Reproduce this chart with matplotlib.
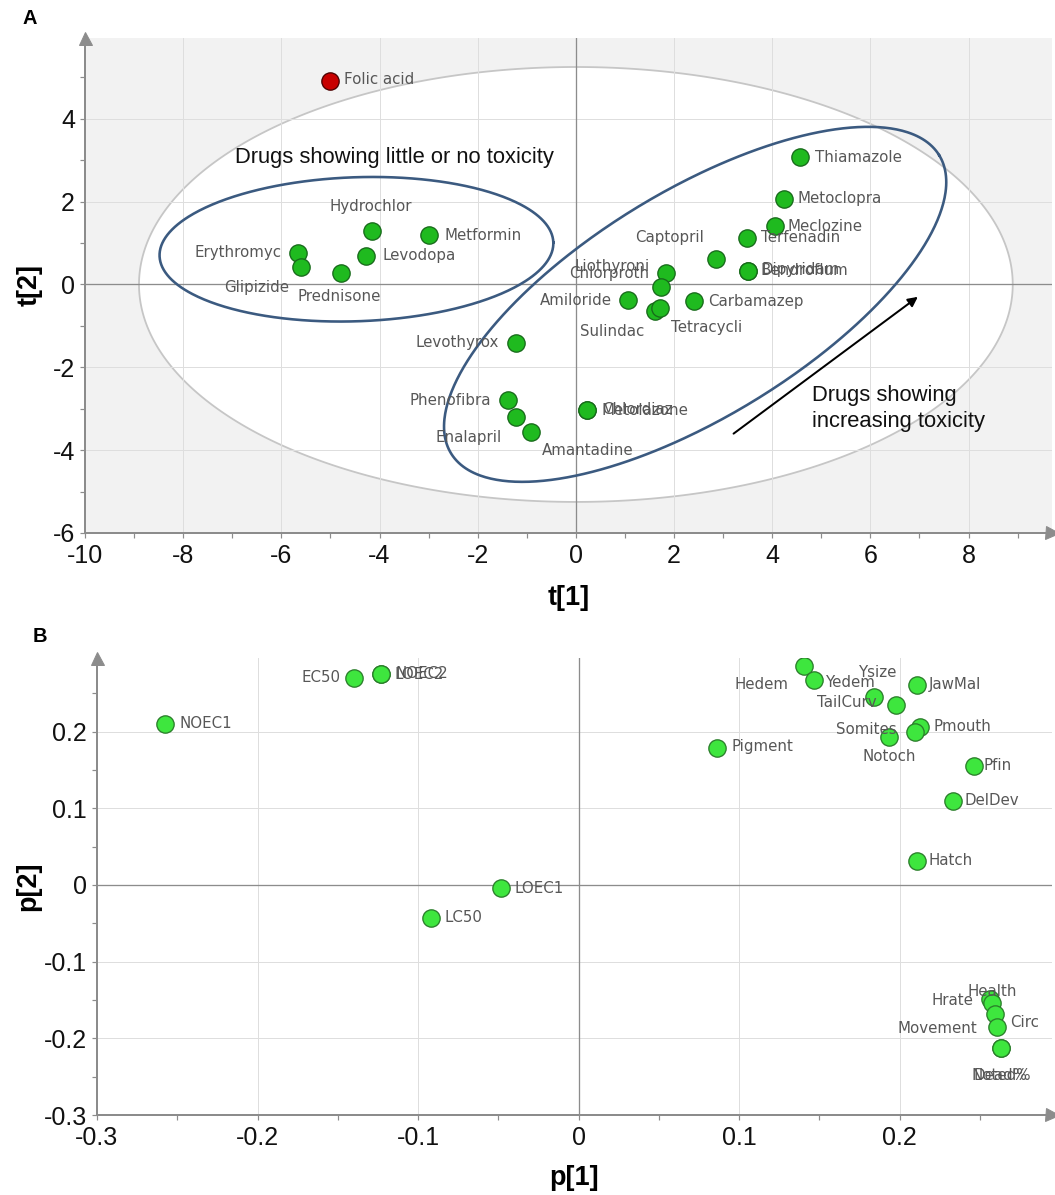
import numpy as np
import matplotlib
matplotlib.use("Agg")
import matplotlib.pyplot as plt
from matplotlib import font_manager
from matplotlib.ticker import MultipleLocator, FuncFormatter

plt.rcParams["axes.unicode_minus"] = False

# ---------------- Panel A: PCA scores t[1] / t[2] ----------------
drugs = ["Folic acid", "Thiamazole", "Metoclopra", "Meclozine", "Terfenadin",
         "Captopril", "Bendroflum", "Dipyridam", "Chlorproth", "Liothyroni",
         "Amiloride", "Carbamazep", "Sulindac", "Tetracycli", "Levothyrox",
         "Phenofibra", "Enalapril", "Amantadine", "Metolazone", "Chlordiaz",
         "Erythromyc", "Glipizide", "Prednisone", "Levodopa", "Hydrochlor",
         "Metformin"]
t1 = [-5.00, 4.56, 4.24, 4.05, 3.48, 2.86, 3.50, 3.51, 1.84, 1.74,
      1.07, 2.40, 1.61, 1.72, -1.22, -1.39, -1.22, -0.92, 0.22, 0.23,
      -5.67, -5.59, -4.78, -4.27, -4.16, -3.00]
t2 = [4.92, 3.07, 2.07, 1.40, 1.13, 0.61, 0.32, 0.33, 0.27, -0.06,
      -0.38, -0.40, -0.65, -0.58, -1.41, -2.80, -3.21, -3.55, -3.04, -3.03,
      0.77, 0.41, 0.27, 0.68, 1.28, 1.19]
outlier = ["Folic acid"]

# ---------------- Panel B: PCA loadings p[1] / p[2] ----------------
endpoints = ["NOEC1", "EC50", "LOEC2", "NOEC2", "LOEC1", "LC50", "Pigment",
             "Hedem", "Yedem", "Ysize", "TailCurv", "JawMal", "Pmouth",
             "Somites", "Notoch", "Pfin", "DelDev", "Hatch", "Hrate",
             "Health", "Circ", "Movement", "Dead%", "Noted%"]
p1 = [-0.2575, -0.1396, -0.1233, -0.1230, -0.0485, -0.0921, 0.0863,
      0.1406, 0.1469, 0.1838, 0.1981, 0.2111, 0.2127,
      0.2096, 0.1933, 0.2464, 0.2336, 0.2111, 0.2563,
      0.2575, 0.2594, 0.2606, 0.2631, 0.2632]
p2 = [0.210, 0.2702, 0.2750, 0.2752, -0.0043, -0.0427, 0.179,
      0.2859, 0.2676, 0.2454, 0.2350, 0.2611, 0.2063,
      0.1997, 0.1932, 0.1553, 0.1097, 0.0313, -0.1488,
      -0.1540, -0.1684, -0.1854, -0.2128, -0.2129]

# label placement: (dx px, dy px, horizontal alignment)
R, L, C = "left", "right", "center"
label_pos_a = {
    "Folic acid": (14, 1, R), "Thiamazole": (15, 0, R), "Metoclopra": (14, 0, R),
    "Meclozine": (13, 0, R), "Terfenadin": (14, 0, R), "Captopril": (-12, 22, L),
    "Bendroflum": (13, 1, R), "Dipyridam": (13, 1, R), "Chlorproth": (-17, 0, L),
    "Liothyroni": (-12, 20, L), "Amiloride": (-17, 0, L), "Carbamazep": (14, 0, R),
    "Sulindac": (-11, -20, L), "Tetracycli": (11, -19, R), "Levothyrox": (-17, 0, L),
    "Phenofibra": (-17, 0, L), "Enalapril": (-14, -20, L), "Amantadine": (11, -19, R),
    "Metolazone": (15, 0, R), "Chlordiaz": (15, 0, R), "Erythromyc": (-16, 0, L),
    "Glipizide": (-12, -20, L), "Prednisone": (-44, -23, R), "Levodopa": (16, 1, R),
    "Hydrochlor": (-1, 25, C), "Metformin": (16, 0, R),
}
label_pos_b = {
    "NOEC1": (14, 0, R), "EC50": (-14, 0, L), "LOEC2": (14, 0, R), "NOEC2": (14, 0, R),
    "LOEC1": (14, 0, R), "LC50": (14, 0, R), "Pigment": (14, 1, R),
    "Hedem": (-16, -19, L), "Yedem": (12, -3, R), "Ysize": (5, 24, C),
    "TailCurv": (-20, 2, L), "JawMal": (11, 0, R), "Pmouth": (14, 0, R),
    "Somites": (-18, 2, L), "Notoch": (0, -20, C), "Pfin": (10, 0, R),
    "DelDev": (11, 0, R), "Hatch": (11, 0, R), "Hrate": (-17, -1, L),
    "Health": (0, 12, C), "Circ": (15, -8, R), "Movement": (-20, -1, L),
    "Dead%": (0, -27, C), "Noted%": (0, -27, C),
}

# group outlines: centre (data), semi-axes in screen px, angle in degrees
HOTELLING = dict(a=8.9, b=5.25)
GROUP_LOW = dict(center=(-4.47, 0.85), a=197, b=72, angle=2)
GROUP_HIGH = dict(center=(2.43, -0.48), a=286, b=113, angle=31.4)

# ---------------- styling ----------------
names = {f.name for f in font_manager.fontManager.ttflist}
NARROW = "Liberation Sans Narrow" if "Liberation Sans Narrow" in names else "Liberation Sans"
AXIS_GREY = "#8c8c8c"
GRID_GREY = "#dedede"
LABEL_GREY = "#575757"
BLUE = "#3b5a80"

W, H = 1055, 1195
fig = plt.figure(figsize=(W / 72, H / 72), dpi=72)

def px_box(left, top, right, bottom):
    return [left / W, 1 - bottom / H, (right - left) / W, (bottom - top) / H]

axA = fig.add_axes(px_box(85, 38, 1052, 533))
axB = fig.add_axes(px_box(97, 658, 1052, 1115))


def style_axes(ax, xlim, ylim, xmaj, xmin, ymaj, ymin, fmt=None):
    ax.set_xlim(*xlim)
    ax.set_ylim(*ylim)
    for s in ("top", "right"):
        ax.spines[s].set_visible(False)
    for s in ("left", "bottom"):
        ax.spines[s].set_color(AXIS_GREY)
        ax.spines[s].set_linewidth(2)
    ax.xaxis.set_major_locator(MultipleLocator(xmaj))
    ax.xaxis.set_minor_locator(MultipleLocator(xmin))
    ax.yaxis.set_major_locator(MultipleLocator(ymaj))
    ax.yaxis.set_minor_locator(MultipleLocator(ymin))
    if fmt is not None:
        ax.xaxis.set_major_formatter(fmt)
        ax.yaxis.set_major_formatter(fmt)
    ax.tick_params(which="both", direction="out", length=5, width=1.2,
                   color=AXIS_GREY, labelsize=25, labelcolor="#111111")
    ax.tick_params(axis="x", pad=6)
    ax.tick_params(axis="y", pad=5)
    for lab in ax.get_xticklabels() + ax.get_yticklabels():
        lab.set_family(NARROW)
    ax.grid(True, which="major", color=GRID_GREY, linewidth=1)
    ax.set_axisbelow(True)
    ax.axhline(0, color=AXIS_GREY, lw=1.3, zorder=1.5)
    ax.axvline(0, color=AXIS_GREY, lw=1.3, zorder=1.5)
    ax.plot([1.0], [0.0], marker=">", ms=13, color=AXIS_GREY, transform=ax.transAxes,
            clip_on=False, zorder=5)
    ax.plot([0.0], [1.0], marker="^", ms=13, color=AXIS_GREY, transform=ax.transAxes,
            clip_on=False, zorder=5)


def screen_scale(ax):
    pos = ax.get_position()
    x0, x1 = ax.get_xlim()
    y0, y1 = ax.get_ylim()
    return pos.width * W / (x1 - x0), pos.height * H / (y1 - y0)


def outline(ax, center, a, b, angle, **kw):
    sx, sy = screen_scale(ax)
    th = np.deg2rad(angle)
    t = np.linspace(0, 2 * np.pi, 500)
    u = a * np.cos(t)
    v = b * np.sin(t)
    dx = u * np.cos(th) - v * np.sin(th)
    dy = u * np.sin(th) + v * np.cos(th)
    ax.plot(center[0] + dx / sx, center[1] + dy / sy, **kw)


def label_points(ax, names_, xs, ys, pos):
    for n, x, y in zip(names_, xs, ys):
        dx, dy, ha = pos[n]
        ax.annotate(n, (x, y), xytext=(dx, dy), textcoords="offset points",
                    ha=ha, va="center", fontsize=15, color=LABEL_GREY,
                    family="DejaVu Sans", zorder=6)


# ---------------- Panel A ----------------
style_axes(axA, (-10, 9.7), (-6, 5.95), 2, 1, 2, 1)
axA.set_facecolor("#f2f2f2")
tt = np.linspace(0, 2 * np.pi, 500)
axA.fill(HOTELLING["a"] * np.cos(tt), HOTELLING["b"] * np.sin(tt),
         facecolor="white", edgecolor="#c6c6c6", lw=1.8, zorder=0.3)
outline(axA, lw=2.6, color=BLUE, zorder=2, **GROUP_LOW)
outline(axA, lw=2.6, color=BLUE, zorder=2, **GROUP_HIGH)

is_out = np.array([d in outlier for d in drugs])
t1a, t2a = np.array(t1), np.array(t2)
axA.scatter(t1a[~is_out], t2a[~is_out], s=300, c="#1fba1f", edgecolors="#17691a",
            linewidths=1.3, zorder=3)
axA.scatter(t1a[is_out], t2a[is_out], s=300, c="#c80000", edgecolors="#4a0000",
            linewidths=1.3, zorder=3)
label_points(axA, drugs, t1, t2, label_pos_a)

axA.text(-3.69, 3.07, "Drugs showing little or no toxicity", ha="center", va="center",
         fontsize=22, family="Liberation Sans", color="#111111", zorder=6)
axA.text(4.82, -3.0, "Drugs showing\nincreasing toxicity", ha="left", va="center",
         fontsize=22, family="Liberation Sans", color="#111111", linespacing=1.32, zorder=6)
axA.annotate("", xy=(7.0, -0.27), xytext=(3.18, -3.63),
             arrowprops=dict(arrowstyle="-|>", color="black", lw=2, mutation_scale=20),
             zorder=6)

axA.set_xlabel("t[1]", fontsize=27, fontweight="bold", family=NARROW)
axA.set_ylabel("t[2]", fontsize=27, fontweight="bold", family=NARROW)
axA.xaxis.set_label_coords(0.5, -0.105)
axA.yaxis.set_label_coords(-0.044, 0.5)

# ---------------- Panel B ----------------
fmt = FuncFormatter(lambda v, _: "0" if abs(v) < 1e-9 else f"{v:.1f}")
style_axes(axB, (-0.3, 0.295), (-0.3, 0.296), 0.1, 0.05, 0.1, 0.05, fmt)
axB.set_facecolor("white")
axB.scatter(p1, p2, s=300, c="#3ee63e", edgecolors="#2a7d2a", linewidths=1.3, zorder=3)
label_points(axB, endpoints, p1, p2, label_pos_b)
axB.set_xlabel("p[1]", fontsize=27, fontweight="bold", family=NARROW)
axB.set_ylabel("p[2]", fontsize=27, fontweight="bold", family=NARROW)
axB.xaxis.set_label_coords(0.5, -0.109)
axB.yaxis.set_label_coords(-0.058, 0.5)

fig.text(30 / W, 1 - 18 / H, "A", fontsize=20, fontweight="bold", ha="center", va="center",
         family="Liberation Sans")
fig.text(40 / W, 1 - 637 / H, "B", fontsize=20, fontweight="bold", ha="center", va="center",
         family="Liberation Sans")

fig.savefig("out.png", dpi=72)
